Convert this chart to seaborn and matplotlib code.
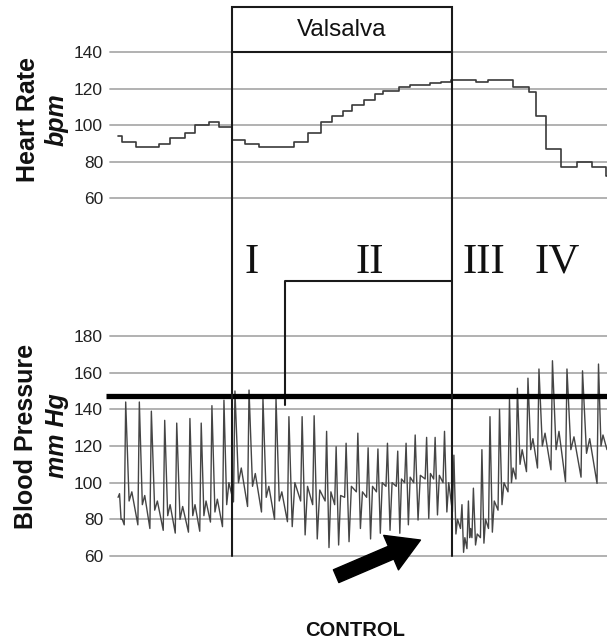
import matplotlib
matplotlib.use("Agg")
import matplotlib.pyplot as plt
import seaborn as sns
import pandas as pd
from matplotlib.patches import Rectangle, ConnectionPatch, FancyArrowPatch

# time axis: seconds from the start of the strain
t_left, t_right = -8.32, 25.57
strain_start, strain_end = 0.0, 15.0
phase2_start = 3.6

# heart rate (bpm), step changes beat by beat
hr_time = [-7.77, -7.50, -6.58, -5.00, -4.21, -3.20, -2.49, -1.57, -0.91, 0.0,
           0.87, 1.81, 4.24, 5.17, 6.04, 6.83, 7.54, 8.20, 8.99, 9.74,
           10.32, 11.37, 12.16, 13.48, 14.27, 14.93, 16.65, 17.44, 19.16, 20.22,
           20.74, 21.40, 22.46, 23.51, 24.57, 25.49, 25.57]
hr_bpm = [94, 91, 88, 90, 93, 96, 100, 102, 99, 92,
          90, 88, 91, 96, 102, 105, 108, 111, 114, 117,
          119, 121, 122, 123, 124, 125, 124, 125, 121, 118,
          105, 87, 77, 80, 77, 72, 72]

# blood pressure (mm Hg), one entry per beat
beat_onset = [-7.77, -7.35, -6.42, -5.60, -4.69, -3.87, -2.97, -2.20, -1.47, -0.65,
              0.10, 1.06, 2.01, 2.90, 3.78, 4.68, 5.50, 6.35, 7.00, 7.68,
              8.48, 9.18, 9.85, 10.50, 11.20, 11.77, 12.39, 13.17, 13.75, 14.39,
              15.03, 15.58, 16.02, 16.36, 16.94, 17.49, 18.14, 18.82, 19.36, 20.08,
              20.83, 21.75, 22.74, 23.80, 24.89]
beat_dia = [92, 77, 77, 75, 74, 72.5, 73, 73.5, 78.5, 76,
            89.5, 87, 84, 80, 78.7, 90, 88, 90, 88, 92,
            95, 92, 95, 98, 98, 100, 100, 102, 102, 100,
            84, 75, 64, 70, 70, 75, 85, 95, 102, 106,
            108, 107, 100.5, 103, 99.6]
beat_sys = [94, 144, 144, 139, 134, 132.5, 135, 132.5, 142, 145,
            150, 150.5, 146, 146, 136, 136, 136.5, 128, 119.6, 121.5,
            127, 119, 118.4, 121.5, 117.2, 121.5, 126, 124.7, 124.7, 128,
            115, 88, 90, 97, 118, 136, 140, 145.5, 151.5, 157,
            162, 166.5, 162, 161, 164.7]
beat_notch = [80, 90, 88, 85, 82, 80, 82, 82, 84, 88,
              100, 98, 92, 90, 76, 71.5, 69.3, 64.6, 66, 67.8,
              75, 69.3, 72.4, 74, 72.4, 77, 79.6, 80.5, 82.4, 84,
              72, 62, 70, 66, 67, 73, 88, 100, 110, 118,
              120, 118, 118, 116, 120]
beat_wave = [80, 95, 93, 90, 88, 87, 88, 90, 91, 100,
             108, 105, 98, 95, 100, 98, 96, 95, 93, 98,
             95, 98, 100, 100, 102, 103, 104, 105, 104, 100,
             80, 70, 75, 72, 80, 90, 100, 108, 118, 124,
             127, 128, 125, 124, 126]
bp_end_value = 118
reference_level = 147.3

hr_ticks = [60, 80, 100, 120, 140]
bp_ticks = [60, 80, 100, 120, 140, 160, 180]

# pressure trace: upstroke, notch, dicrotic wave, then on to the next beat
bp_t, bp_v = [], []
for i, t0 in enumerate(beat_onset):
    t1 = beat_onset[i + 1] if i + 1 < len(beat_onset) else t_right
    span = t1 - t0
    bp_t += [t0, t0 + 0.1, t0 + 0.1 + 0.25 * span, t0 + 0.1 + 0.45 * span]
    bp_v += [beat_dia[i], beat_sys[i], beat_notch[i], beat_wave[i]]
bp_t.append(t_right)
bp_v.append(bp_end_value)
bp = pd.DataFrame({"time": bp_t, "mmHg": bp_v})
hr = pd.DataFrame({"time": hr_time, "bpm": hr_bpm})

sns.set_theme(style="white")
plt.rcParams["font.family"] = ["Liberation Sans", "DejaVu Sans"]

W, H = 607, 643
fig = plt.figure(figsize=(W / 100, H / 100), dpi=100)
ax_hr = fig.add_axes([110 / W, 1 - 198.3 / H, 497 / W, 146 / H])
ax_bp = fig.add_axes([110 / W, 1 - 556 / H, 497 / W, 220 / H])

grid_kw = dict(color="#ababab", lw=1.3)
for ax, ticks in ((ax_hr, hr_ticks), (ax_bp, bp_ticks)):
    ax.set_xlim(t_left, t_right)
    ax.set_ylim(ticks[0], ticks[-1])
    ax.set_yticks(ticks)
    ax.set_xticks([])
    ax.grid(axis="y", **grid_kw)
    for gl in ax.get_ygridlines():
        gl.set_clip_on(False)
    ax.tick_params(axis="y", length=0, pad=5, labelsize=12.5, labelcolor="#222222")
    sns.despine(ax=ax, left=True, bottom=True)
    ax.patch.set_alpha(0)

sns.lineplot(data=hr, x="time", y="bpm", drawstyle="steps-post", color="#3a3a3a",
             lw=1.2, estimator=None, ax=ax_hr)
sns.lineplot(data=bp, x="time", y="mmHg", sort=False, estimator=None,
             color="#454545", lw=1.0, ax=ax_bp)
for ax in (ax_hr, ax_bp):
    ax.set_xlabel("")
    ax.set_ylabel("")

# Valsalva box and strain boundaries
ax_hr.add_patch(Rectangle((strain_start, 140), strain_end - strain_start, 24.7,
                          fill=False, ec="#1a1a1a", lw=1.5, clip_on=False, zorder=5))
ax_hr.text((strain_start + strain_end) / 2, 152.3, "Valsalva", ha="center",
           va="center", fontsize=17.5, color="#111111")
for t in (strain_start, strain_end):
    con = ConnectionPatch(xyA=(t, 140), coordsA=ax_hr.transData,
                          xyB=(t, 60), coordsB=ax_bp.transData,
                          color="#1a1a1a", lw=1.5, zorder=5)
    fig.add_artist(con)

# phase II bracket
ax_bp.plot([phase2_start, phase2_start, strain_end], [142.4, 210, 210],
           color="#1a1a1a", lw=1.5, clip_on=False, zorder=5)

# reference level
ax_bp.plot([-8.6, t_right], [reference_level, reference_level], color="black",
           lw=3.8, clip_on=False, zorder=6, solid_capstyle="butt")

# phase numerals
serif = ["Liberation Serif", "DejaVu Serif"]
for x, label in ((1.36, "I"), (9.41, "II"), (17.2, "III"), (22.2, "IV")):
    ax_bp.text(x, 214.4, label, ha="center", va="baseline", fontsize=31,
               family=serif, color="#111111")

# axis titles
fig.text(28 / W, 1 - 120 / H, "Heart Rate", rotation=90, ha="center", va="center",
         fontsize=18, weight="bold", color="#111111")
fig.text(57 / W, 1 - 120 / H, "bpm", rotation=90, ha="center", va="center",
         fontsize=18, weight="bold", style="italic", color="#111111")
fig.text(26 / W, 1 - 436 / H, "Blood Pressure", rotation=90, ha="center", va="center",
         fontsize=18, weight="bold", color="#111111")
fig.text(57 / W, 1 - 436 / H, "mm Hg", rotation=90, ha="center", va="center",
         fontsize=18, weight="bold", style="italic", color="#111111")

# arrow and label
arrow = FancyArrowPatch(posA=(7.1, 49.0), posB=(12.85, 68.7),
                        arrowstyle="simple,head_width=1.35,head_length=1.15,tail_width=0.5",
                        mutation_scale=20, color="black", shrinkA=0, shrinkB=0,
                        clip_on=False, zorder=6)
ax_bp.add_patch(arrow)
fig.text(355 / W, 1 - 630 / H, "CONTROL", ha="center", va="center",
         fontsize=14.5, weight="bold", color="#111111")

fig.savefig("out.png", dpi=100)
